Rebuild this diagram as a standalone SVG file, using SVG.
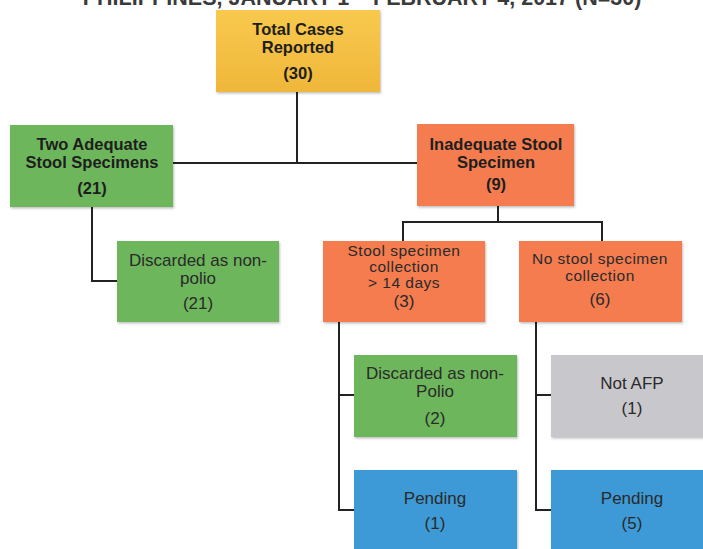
<svg xmlns="http://www.w3.org/2000/svg" width="703" height="549" viewBox="0 0 703 549">
<style>
.box{stroke:none;filter:url(#sh)}
.y{fill:url(#gy)}
.g{fill:#6DB65B}
.o{fill:#F47B4F}
.gr{fill:#C8C7CC}
.b{fill:#3C9AD6}
.t{font-family:"Liberation Sans",Arial,sans-serif;text-anchor:middle;fill:#2a2a2a}
.bt{font-size:16.5px;font-weight:bold;fill:#1e1e1e}
.rt{font-size:17px}
.st{font-size:15.5px;letter-spacing:0.5px}
.ln{fill:none;stroke:#222;stroke-width:2}
</style>
<defs>
<linearGradient id="gy" x1="0" y1="0" x2="0" y2="1">
<stop offset="0" stop-color="#F8C94E"/>
<stop offset="1" stop-color="#EFB73A"/>
</linearGradient>
<filter id="sh" x="-5%" y="-5%" width="112%" height="115%">
<feDropShadow dx="1" dy="1.5" stdDeviation="1.2" flood-color="#000" flood-opacity="0.25"/>
</filter>
</defs>
<rect width="703" height="549" fill="#fff"/>
<text class="t" x="362" y="5" style="font-size:21.5px;font-weight:bold;fill:#3a3a3a">PHILIPPINES, JANUARY 1 – FEBRUARY 4, 2017 (N=30)</text>
<g id="connectors">
<path class="ln" d="M297 92 V163 M173 163 H418"/>
<path class="ln" d="M92 207 V281 H117"/>
<path class="ln" d="M498 206 V222 M403 241 V222 H602 V241"/>
<path class="ln" d="M339 322 V510 H354 M339 395 H354"/>
<path class="ln" d="M536 322 V510 H551 M536 395 H551"/>
</g>
<g id="total">
<rect class="box y" x="216" y="10" width="164" height="82"/>
<text class="t bt" x="298" y="35">Total Cases</text>
<text class="t bt" x="298" y="53">Reported</text>
<text class="t bt" x="298" y="79">(30)</text>
</g>
<g id="adequate">
<rect class="box g" x="10" y="125" width="163" height="82"/>
<text class="t bt" x="92" y="150">Two Adequate</text>
<text class="t bt" x="92" y="168">Stool Specimens</text>
<text class="t bt" x="92" y="194">(21)</text>
</g>
<g id="inadequate">
<rect class="box o" x="417" y="124" width="157" height="82"/>
<text class="t bt" x="496" y="150">Inadequate Stool</text>
<text class="t bt" x="496" y="168">Specimen</text>
<text class="t bt" x="496" y="190">(9)</text>
</g>
<g id="discarded21">
<rect class="box g" x="117" y="241" width="162" height="81"/>
<text class="t rt" x="198" y="266">Discarded as non-</text>
<text class="t rt" x="198" y="284">polio</text>
<text class="t rt" x="198" y="309">(21)</text>
</g>
<g id="late">
<rect class="box o" x="323" y="241" width="162" height="81"/>
<text class="t st" x="404" y="256">Stool specimen</text>
<text class="t st" x="404" y="272">collection</text>
<text class="t st" x="404" y="288">&gt; 14 days</text>
<text class="t rt" x="404" y="307">(3)</text>
</g>
<g id="nostool">
<rect class="box o" x="519" y="241" width="163" height="81"/>
<text class="t st" x="600" y="264">No stool specimen</text>
<text class="t st" x="600" y="281">collection</text>
<text class="t rt" x="600" y="305">(6)</text>
</g>
<g id="discarded2">
<rect class="box g" x="354" y="355" width="163" height="82"/>
<text class="t rt" x="435" y="379">Discarded as non-</text>
<text class="t rt" x="435" y="397">Polio</text>
<text class="t rt" x="435" y="424">(2)</text>
</g>
<g id="notafp">
<rect class="box gr" x="551" y="355" width="163" height="82"/>
<text class="t rt" x="632" y="389">Not AFP</text>
<text class="t rt" x="632" y="414">(1)</text>
</g>
<g id="pending1">
<rect class="box b" x="354" y="470" width="163" height="90"/>
<text class="t rt" x="435" y="504">Pending</text>
<text class="t rt" x="435" y="529">(1)</text>
</g>
<g id="pending5">
<rect class="box b" x="551" y="470" width="163" height="90"/>
<text class="t rt" x="632" y="504">Pending</text>
<text class="t rt" x="632" y="529">(5)</text>
</g>
</svg>
